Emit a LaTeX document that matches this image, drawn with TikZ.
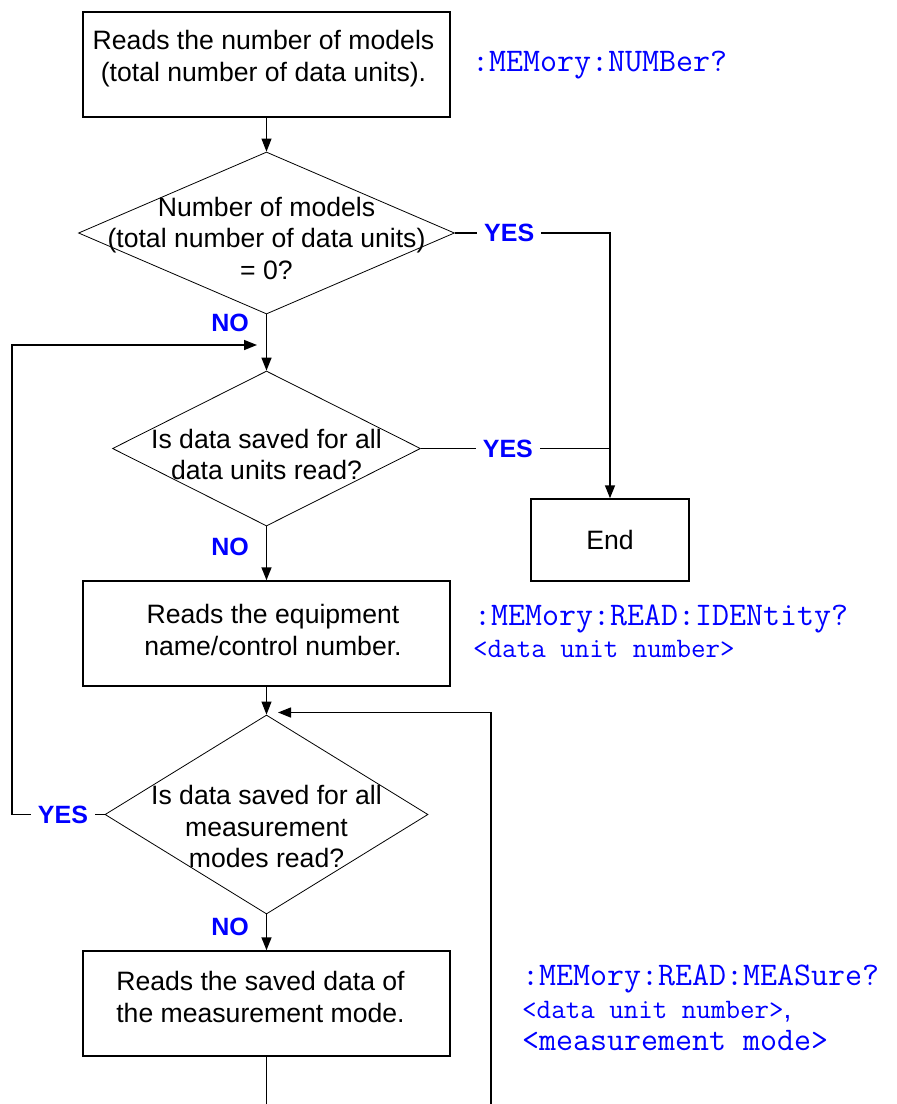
\documentclass[tikz,border=0pt]{standalone}
\usepackage{fontspec}
\setmainfont{Liberation Sans}
\usetikzlibrary{shapes.geometric,arrows.meta}
\tikzset{
  box/.style={draw,line width=1.5pt,minimum width=367pt,minimum height=105pt,inner sep=0pt},
  dec/.style={diamond,draw,line width=0.8pt,inner sep=0pt},
  txt/.style={align=center,inner sep=0pt,font=\fontsize{26.6}{31.5}\selectfont},
  lbl/.style={text=blue,inner sep=7pt,font=\bfseries\fontsize{25}{25}\selectfont},
  yes/.style={lbl,fill=white},
  cmd/.style={anchor=base west,inner sep=0pt,text=blue,font=\ttfamily\fontsize{33}{33}\selectfont},
  arg/.style={cmd,font=\ttfamily\fontsize{28.2}{28.2}\selectfont},
  fine/.style={line width=1pt},
  flow/.style={line width=1.5pt},
  arr/.style={-{Triangle[length=13pt,width=10pt]}}
}
\begin{document}
\begin{tikzpicture}[x=1pt,y=-1pt]
\useasboundingbox (0,0) rectangle (897,1104);
\node[box,label={[txt,xshift=-3pt,yshift=6pt]center:Reads the number of models\\(total number of data units).}] (p1) at (266.5,64.5) {};
\node[dec,minimum width=376pt,minimum height=162pt,label={[txt,yshift=-5pt]center:Number of models\\(total number of data units)\\= 0?}] (q1) at (266.5,233) {};
\node[dec,minimum width=308pt,minimum height=155pt,label={[txt,yshift=-6pt]center:Is data saved for all\\data units read?}] (q2) at (266.5,448.5) {};
\node[box,minimum width=158pt,minimum height=82pt,txt] (stop) at (610,540) {End};
\node[box,label={[txt,xshift=6.5pt,yshift=3.5pt]center:Reads the equipment\\name/control number.}] (p2) at (266.5,633.5) {};
\node[dec,minimum width=323pt,minimum height=199pt,label={[txt,yshift=-12pt]center:Is data saved for all\\measurement\\modes read?}] (q3) at (266.5,814.5) {};
\node[box,label={[txt,xshift=-6pt,yshift=6.5pt]center:Reads the saved data of\\the measurement mode.}] (p3) at (266.5,1003.5) {};
\node[lbl] (no1) at (230,323) {NO};
\node[lbl] (no2) at (230,547) {NO};
\node[lbl] (no3) at (230,927) {NO};
\node[cmd] (c1) at (472,71) {:MEMory:NUMBer?};
\node[cmd] (c2) at (474,625) {:MEMory:READ:IDENtity?};
\node[arg] (c2a) at (473,657) {<data unit number>};
\node[cmd] (c3) at (522,985) {:MEMory:READ:MEASure?};
\node[arg] (c3a) at (522,1018) {<data unit number>\textrm{,}};
\node[cmd] (c3b) at (522,1050) {<measurement mode>};
\coordinate (lf) at (12,345);
\coordinate (j1) at (257,345);
\coordinate (j2) at (278,712.5);
\coordinate (rb) at (491,1104);
\draw[fine,arr] (p1.south) -- (q1.north);
\draw[flow,arr] (q1.south) -- (q2.north);
\draw[flow,arr] (q2.south) -- (p2.north);
\draw[fine,arr] (p2.south) -- (q3.north);
\draw[flow,arr] (q3.south) -- (p3.north);
\draw[flow] (p3.south) -- (p3.south |- rb);
\draw[flow,arr] (rb) |- (j2);
\draw[flow,arr] (q1.east) -- node[yes,pos=0.35] {YES} (q1.east -| stop.north) -- (stop.north);
\draw[flow] (q2.east) -- node[yes,pos=0.46] {YES} (q2.east -| stop.north);
\draw[flow,arr] (q3.west) -- node[yes,pos=0.45] {YES} (q3.west -| lf) -- (lf) -- (j1);
\end{tikzpicture}
\end{document}
